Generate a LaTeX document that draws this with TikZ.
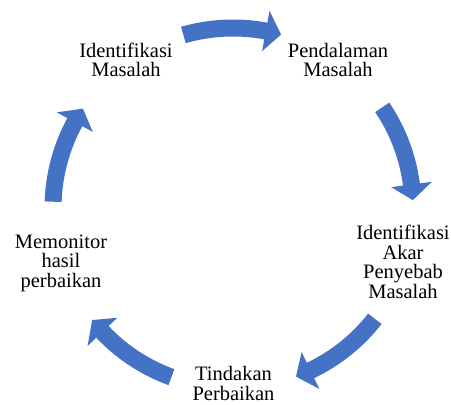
\documentclass[tikz,border=0pt]{standalone}
\usepackage{fontspec}
\setmainfont{Liberation Serif}
\definecolor{cycblue}{HTML}{4472C4}
\tikzset{
  cyc/.style={fill=cycblue, draw=none},
  lbl/.style={align=center, inner sep=0pt, font=\fontsize{20.5}{19.5}\selectfont, text=black}
}
\begin{document}
\begin{tikzpicture}
\useasboundingbox[fill=white] (0,0) rectangle (451pt,405pt);
\coordinate (c) at (233pt,197pt);
\begin{scope}[shift={(c)}]
\foreach \m in {90,18,-54,-126,162}{
  \pgfmathsetmacro\ta{\m+16}
  \pgfmathsetmacro\hb{\m-10.5}
  \pgfmathsetmacro\tp{\m-15.5}
  \fill[cyc] (\ta:188.5pt) arc[start angle=\ta, end angle=\hb, radius=188.5pt]
    -- (\hb:200.5pt) -- (\tp:180pt) -- (\hb:159.5pt) -- (\hb:171.5pt)
    arc[start angle=\hb, end angle=\ta, radius=171.5pt] -- cycle;
}
\end{scope}
\node[lbl] (im) at (126pt,345pt) {Identifikasi\\Masalah};
\node[lbl] (pm) at (338pt,345pt) {Pendalaman\\Masalah};
\node[lbl] (iapm) at (403pt,143pt) {Identifikasi\\Akar\\Penyebab\\Masalah};
\node[lbl] (tp) at (233.5pt,21.5pt) {Tindakan\\Perbaikan};
\node[lbl] (mhp) at (61pt,142pt) {Memonitor\\hasil\\perbaikan};
\end{tikzpicture}
\end{document}
